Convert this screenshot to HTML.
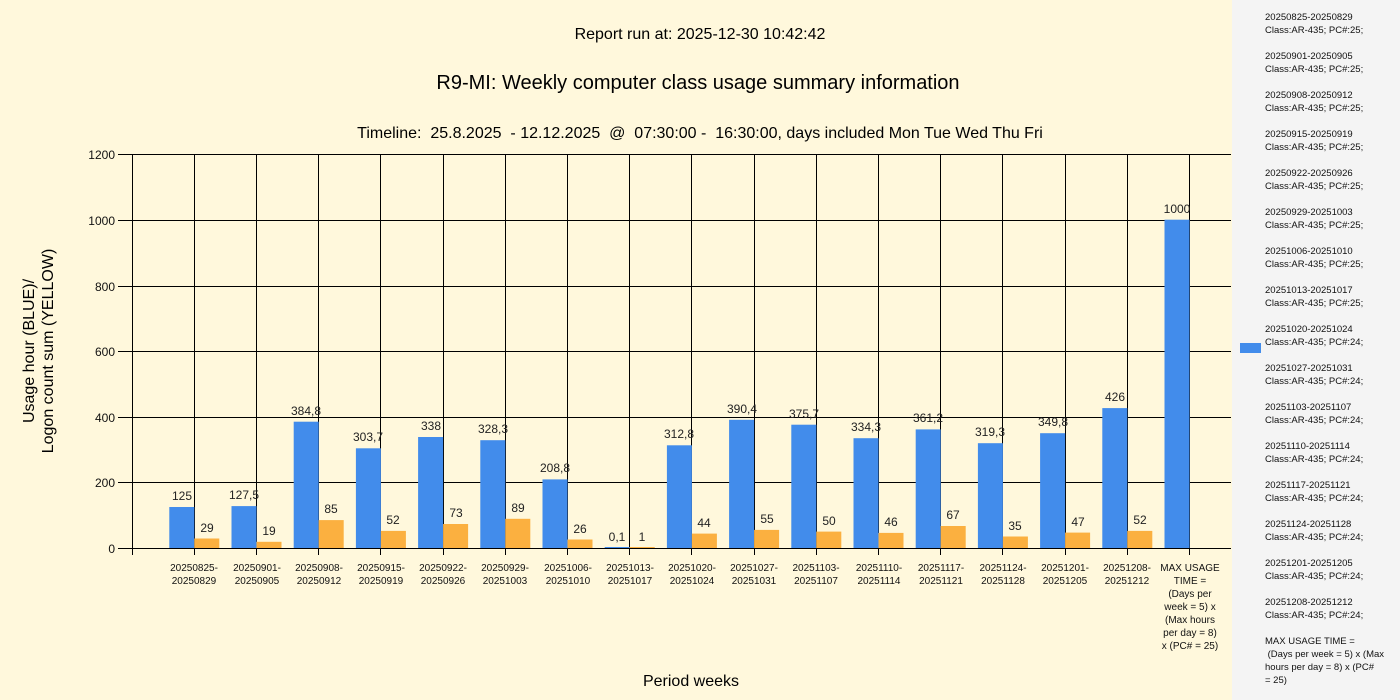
<!DOCTYPE html>
<html><head><meta charset="utf-8"><style>
body{margin:0;width:1400px;height:700px;overflow:hidden;background:#fff8dc}
svg{display:block;font-family:"Liberation Sans","DejaVu Sans",sans-serif}
.v{font-size:12px;fill:#222;text-anchor:middle}
.x{font-size:10px;fill:#111;text-anchor:middle}
.l{font-size:9.5px;fill:#111}
.pre{white-space:pre}
</style></head><body>
<svg width="1400" height="700" xmlns="http://www.w3.org/2000/svg">
<rect x="0" y="0" width="1232" height="700" fill="#fff8dc"/>
<rect x="1232" y="0" width="168" height="700" fill="#f4f4f4"/>
<text x="700" y="39" font-size="16" text-anchor="middle" fill="#000">Report run at: 2025-12-30 10:42:42</text>
<text x="698" y="89" font-size="20" text-anchor="middle" fill="#000">R9-MI: Weekly computer class usage summary information</text>
<text class="pre" x="700" y="138" font-size="16" text-anchor="middle" fill="#000">Timeline:  25.8.2025  - 12.12.2025  @  07:30:00 -  16:30:00, days included Mon Tue Wed Thu Fri</text>
<g stroke="#000" stroke-width="1">
<line x1="118" y1="154.5" x2="1231" y2="154.5"/>
<line x1="118" y1="220.5" x2="1231" y2="220.5"/>
<line x1="118" y1="286.5" x2="1231" y2="286.5"/>
<line x1="118" y1="351.5" x2="1231" y2="351.5"/>
<line x1="118" y1="417.5" x2="1231" y2="417.5"/>
<line x1="118" y1="482.5" x2="1231" y2="482.5"/>
<line x1="118" y1="548.5" x2="1231" y2="548.5"/>
<line x1="132.5" y1="154" x2="132.5" y2="555"/>
<line x1="194.5" y1="154" x2="194.5" y2="555"/>
<line x1="256.5" y1="154" x2="256.5" y2="555"/>
<line x1="318.5" y1="154" x2="318.5" y2="555"/>
<line x1="380.5" y1="154" x2="380.5" y2="555"/>
<line x1="443.5" y1="154" x2="443.5" y2="555"/>
<line x1="505.5" y1="154" x2="505.5" y2="555"/>
<line x1="567.5" y1="154" x2="567.5" y2="555"/>
<line x1="629.5" y1="154" x2="629.5" y2="555"/>
<line x1="691.5" y1="154" x2="691.5" y2="555"/>
<line x1="754.5" y1="154" x2="754.5" y2="555"/>
<line x1="816.5" y1="154" x2="816.5" y2="555"/>
<line x1="878.5" y1="154" x2="878.5" y2="555"/>
<line x1="940.5" y1="154" x2="940.5" y2="555"/>
<line x1="1002.5" y1="154" x2="1002.5" y2="555"/>
<line x1="1065.5" y1="154" x2="1065.5" y2="555"/>
<line x1="1127.5" y1="154" x2="1127.5" y2="555"/>
<line x1="1189.5" y1="154" x2="1189.5" y2="555"/>
</g>
<g font-size="12" fill="#111" text-anchor="end">
<text x="115" y="159">1200</text><text x="115" y="225">1000</text><text x="115" y="291">800</text>
<text x="115" y="356">600</text><text x="115" y="422">400</text><text x="115" y="487">200</text><text x="115" y="553">0</text>
</g>
<g fill="#428ceb">
<rect x="169.3" y="507" width="25" height="41"/>
<rect x="231.5" y="506.1" width="25" height="41.9"/>
<rect x="293.7" y="421.7" width="25" height="126.3"/>
<rect x="355.9" y="448.3" width="25" height="99.7"/>
<rect x="418.1" y="437" width="25" height="111"/>
<rect x="480.3" y="440.2" width="25" height="107.8"/>
<rect x="542.5" y="479.4" width="25" height="68.6"/>
<rect x="604.7" y="547" width="25" height="1"/>
<rect x="666.9" y="445.3" width="25" height="102.7"/>
<rect x="729.1" y="419.8" width="25" height="128.2"/>
<rect x="791.3" y="424.7" width="25" height="123.3"/>
<rect x="853.5" y="438.2" width="25" height="109.8"/>
<rect x="915.7" y="429.4" width="25" height="118.6"/>
<rect x="977.9" y="443.2" width="25" height="104.8"/>
<rect x="1040.1" y="433.2" width="25" height="114.8"/>
<rect x="1102.3" y="408.1" width="25" height="139.9"/>
<rect x="1164.5" y="219.7" width="25" height="328.3"/>
</g>
<g fill="#fbb040">
<rect x="194.3" y="538.5" width="25" height="9.5"/>
<rect x="256.5" y="541.8" width="25" height="6.2"/>
<rect x="318.7" y="520.1" width="25" height="27.9"/>
<rect x="380.9" y="530.9" width="25" height="17.1"/>
<rect x="443.1" y="524" width="25" height="24"/>
<rect x="505.3" y="518.8" width="25" height="29.2"/>
<rect x="567.5" y="539.5" width="25" height="8.5"/>
<rect x="629.7" y="547" width="25" height="1"/>
<rect x="691.9" y="533.6" width="25" height="14.4"/>
<rect x="754.1" y="529.9" width="25" height="18.1"/>
<rect x="816.3" y="531.6" width="25" height="16.4"/>
<rect x="878.5" y="532.9" width="25" height="15.1"/>
<rect x="940.7" y="526" width="25" height="22"/>
<rect x="1002.9" y="536.5" width="25" height="11.5"/>
<rect x="1065.1" y="532.6" width="25" height="15.4"/>
<rect x="1127.3" y="530.9" width="25" height="17.1"/>
</g>
<g class="v">
<text x="182" y="500">125</text><text x="244" y="499">127,5</text><text x="306" y="415">384,8</text>
<text x="368" y="441">303,7</text><text x="431" y="430">338</text><text x="493" y="433">328,3</text>
<text x="555" y="472">208,8</text><text x="617" y="541">0,1</text><text x="679" y="438">312,8</text>
<text x="742" y="413">390,4</text><text x="804" y="418">375,7</text><text x="866" y="431">334,3</text>
<text x="928" y="422">361,2</text><text x="990" y="436">319,3</text><text x="1053" y="426">349,8</text>
<text x="1115" y="401">426</text><text x="1177" y="213">1000</text>
<text x="207" y="532">29</text><text x="269" y="535">19</text><text x="331" y="513">85</text>
<text x="393" y="524">52</text><text x="456" y="517">73</text><text x="518" y="512">89</text>
<text x="580" y="533">26</text><text x="642" y="541">1</text><text x="704" y="527">44</text>
<text x="767" y="523">55</text><text x="829" y="525">50</text><text x="891" y="526">46</text>
<text x="953" y="519">67</text><text x="1015" y="530">35</text><text x="1078" y="526">47</text>
<text x="1140" y="524">52</text>
</g>
<g class="x">
<text x="194" y="571">20250825-</text><text x="194" y="584">20250829</text>
<text x="257" y="571">20250901-</text><text x="257" y="584">20250905</text>
<text x="319" y="571">20250908-</text><text x="319" y="584">20250912</text>
<text x="381" y="571">20250915-</text><text x="381" y="584">20250919</text>
<text x="443" y="571">20250922-</text><text x="443" y="584">20250926</text>
<text x="505" y="571">20250929-</text><text x="505" y="584">20251003</text>
<text x="568" y="571">20251006-</text><text x="568" y="584">20251010</text>
<text x="630" y="571">20251013-</text><text x="630" y="584">20251017</text>
<text x="692" y="571">20251020-</text><text x="692" y="584">20251024</text>
<text x="754" y="571">20251027-</text><text x="754" y="584">20251031</text>
<text x="816" y="571">20251103-</text><text x="816" y="584">20251107</text>
<text x="879" y="571">20251110-</text><text x="879" y="584">20251114</text>
<text x="941" y="571">20251117-</text><text x="941" y="584">20251121</text>
<text x="1003" y="571">20251124-</text><text x="1003" y="584">20251128</text>
<text x="1065" y="571">20251201-</text><text x="1065" y="584">20251205</text>
<text x="1127" y="571">20251208-</text><text x="1127" y="584">20251212</text>
<text x="1190" y="571">MAX USAGE</text><text x="1190" y="584">TIME =</text>
<text x="1190" y="597">(Days per</text><text x="1190" y="610">week = 5) x</text>
<text x="1190" y="623">(Max hours</text><text x="1190" y="636">per day = 8)</text>
<text x="1190" y="649">x (PC# = 25)</text>
</g>
<text x="691" y="686" font-size="16" text-anchor="middle" fill="#000">Period weeks</text>
<g transform="translate(34,351) rotate(-90)" font-size="16" text-anchor="middle" fill="#000">
<text x="0" y="0">Usage hour (BLUE)/</text><text x="0" y="19">Logon count sum (YELLOW)</text>
</g>
<rect x="1240" y="343" width="21" height="10" fill="#428ceb"/>
<g class="l">
<text x="1265" y="20">20250825-20250829</text><text x="1265" y="33">Class:AR-435; PC#:25;</text>
<text x="1265" y="59">20250901-20250905</text><text x="1265" y="72">Class:AR-435; PC#:25;</text>
<text x="1265" y="98">20250908-20250912</text><text x="1265" y="111">Class:AR-435; PC#:25;</text>
<text x="1265" y="137">20250915-20250919</text><text x="1265" y="150">Class:AR-435; PC#:25;</text>
<text x="1265" y="176">20250922-20250926</text><text x="1265" y="189">Class:AR-435; PC#:25;</text>
<text x="1265" y="215">20250929-20251003</text><text x="1265" y="228">Class:AR-435; PC#:25;</text>
<text x="1265" y="254">20251006-20251010</text><text x="1265" y="267">Class:AR-435; PC#:25;</text>
<text x="1265" y="293">20251013-20251017</text><text x="1265" y="306">Class:AR-435; PC#:25;</text>
<text x="1265" y="332">20251020-20251024</text><text x="1265" y="345">Class:AR-435; PC#:24;</text>
<text x="1265" y="371">20251027-20251031</text><text x="1265" y="384">Class:AR-435; PC#:24;</text>
<text x="1265" y="410">20251103-20251107</text><text x="1265" y="423">Class:AR-435; PC#:24;</text>
<text x="1265" y="449">20251110-20251114</text><text x="1265" y="462">Class:AR-435; PC#:24;</text>
<text x="1265" y="488">20251117-20251121</text><text x="1265" y="501">Class:AR-435; PC#:24;</text>
<text x="1265" y="527">20251124-20251128</text><text x="1265" y="540">Class:AR-435; PC#:24;</text>
<text x="1265" y="566">20251201-20251205</text><text x="1265" y="579">Class:AR-435; PC#:24;</text>
<text x="1265" y="605">20251208-20251212</text><text x="1265" y="618">Class:AR-435; PC#:24;</text>
<text x="1265" y="644">MAX USAGE TIME =</text><text class="pre" x="1265" y="657"> (Days per week = 5) x (Max</text>
<text x="1265" y="670">hours per day = 8) x (PC#</text><text x="1265" y="683">= 25)</text>
</g>
</svg>
</body></html>
